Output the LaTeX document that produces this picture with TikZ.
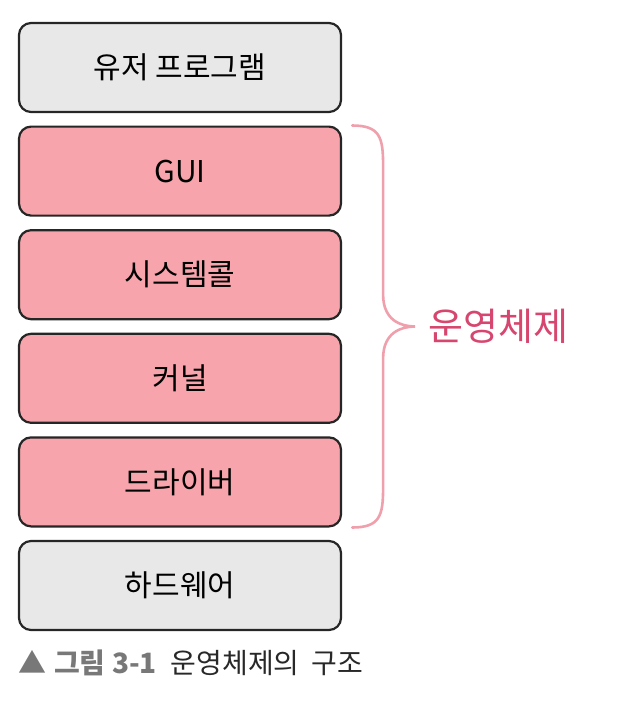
\documentclass[tikz,border=0pt]{standalone}
\usepackage{fontspec}
\setmainfont{Noto Sans CJK KR}
\usepackage{tikz}
\usetikzlibrary{positioning, calc}
\usepackage{xcolor}
\definecolor{osPink}  {RGB}{247, 164, 172}
\definecolor{osGray}  {RGB}{232, 232, 232}
\definecolor{osBrace} {RGB}{240, 160, 172}
\definecolor{osText}  {RGB}{214, 70,  110}
\definecolor{capGray} {RGB}{120, 120, 120}
\definecolor{capDark} {RGB}{40,  40,  40}

\begin{document}
\begin{tikzpicture}[
  x=1pt, y=-1pt,
  node distance = 12.4pt,
  layer/.style = {
    rectangle, rounded corners=12pt,
    minimum width=322pt, minimum height=89pt,
    text centered, font=\fontsize{30}{34}\selectfont,
    draw=black!85, line width=2.2pt, fill=osGray
  },
  oslayer/.style = {layer, fill=osPink},
  curly/.style = {line width=2.6pt, osBrace, line cap=round}
]
  \useasboundingbox (0,0) rectangle (616,704);

  \node[layer] (user) at (180,67.5) {유저 프로그램};
  \node[oslayer, below=of user] (gui) {GUI};
  \node[oslayer, below=of gui]  (sys) {시스템콜};
  \node[oslayer, below=of sys]  (kern) {커널};
  \node[oslayer, below=of kern] (drv) {드라이버};
  \node[layer, below=of drv]    (hw) {하드웨어};

  % Brace round the OS layers
  \coordinate (bt) at ($(gui.north east)+(10pt,0)$);
  \coordinate (bb) at ($(drv.south east)+(10pt,0)$);
  \coordinate (bm) at ($(bt)!0.5!(bb)+(63pt,0)$);
  \node[right=13pt of bm, text=osText, font=\fontsize{38}{40}\selectfont,
        inner sep=0pt] (os) {운영체제};
  \draw[curly]
    (bt) .. controls ($(bt)+(28,0)$) and ($(bt)+(31,12)$) .. ($(bt)+(31,40)$)
    -- ($(bm)+(-32,-32)$)
    .. controls ($(bm)+(-32,-6)$) and ($(bm)+(-14,0)$) .. (bm)
    .. controls ($(bm)+(-14,0)$) and ($(bm)+(-32,6)$) .. ($(bm)+(-32,32)$)
    -- ($(bb)+(31,-40)$)
    .. controls ($(bb)+(31,-12)$) and ($(bb)+(28,0)$) .. (bb);

  \node[anchor=west, inner sep=0pt, font=\fontsize{28}{30}\selectfont]
    (cap) at (18,663)
    {\textcolor{capGray}{▲\hspace{8pt}\textbf{그림 3-1}}\hspace{14pt}\textcolor{capDark}{운영체제의\hspace{12pt}구조}};
\end{tikzpicture}
\end{document}
